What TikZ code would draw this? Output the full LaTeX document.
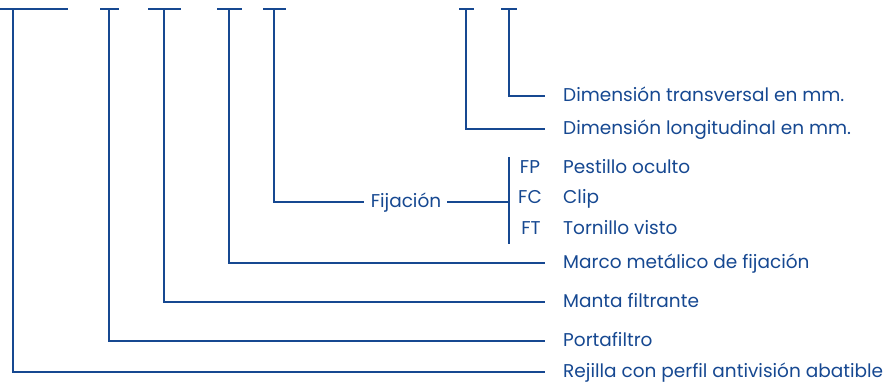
\documentclass[tikz,border=0pt]{standalone}
\usepackage{fontspec}
\setmainfont{Poppins}
\usetikzlibrary{positioning}
\definecolor{azul}{RGB}{22,72,145}

\begin{document}
\begin{tikzpicture}[x=1pt,y=-1pt,
  linea/.style={azul,line width=1.1pt},
  rotulo/.style={azul,anchor=west,inner sep=0pt,text height=11pt,text depth=0pt,font=\fontsize{18.5}{22}\selectfont},
  codigo/.style={azul,inner sep=0pt,text height=11pt,text depth=0pt,font=\fontsize{18.5}{22}\selectfont}]
\useasboundingbox (0,0) rectangle (896,383);
% barras superiores
\foreach \a/\b/\c/\n in {0/68/13/r, 100/119/109/p, 148/181/164/m, 217/242/229/k, 263/286/274/f, 459/474/466/l, 501/517/509/t}{
  \draw[linea] (\a,9) -- (\b,9);
  \coordinate (\n) at (\c,9);
}
% rotulos
\node[rotulo] (dtrans) at (563,96) {Dimensión transversal en mm.};
\node[rotulo] (dlong) at (563,129) {Dimensión longitudinal en mm.};
\node[codigo] (fp) at (530,168) {FP};
\node[codigo] (fc) at (530,198) {FC};
\node[codigo] (ft) at (531,229) {FT};
\node[rotulo] (pest) at (563,168) {Pestillo oculto};
\node[rotulo] (clip) at (563,198) {Clip};
\node[rotulo] (torn) at (563,229) {Tornillo visto};
\node[codigo] (fij) at (406,202) {Fijación};
\node[rotulo] (marco) at (563,263) {Marco metálico de fijación};
\node[rotulo] (manta) at (563,302) {Manta filtrante};
\node[rotulo] (porta) at (563,341) {Portafiltro};
\node[rotulo] (rej) at (563,372) {Rejilla con perfil antivisión abatible};
% llave de fijacion
\coordinate (llaveA) at (509,157);
\coordinate (llaveB) at (509,244);
\draw[linea] (llaveA) -- (llaveB);
% conectores
\draw[linea] (t) |- ([xshift=-18pt]dtrans.west);
\draw[linea] (l) |- ([xshift=-18pt]dlong.west);
\draw[linea] (f) |- ([xshift=-7pt]fij.west);
\draw[linea] ([xshift=6pt]fij.east) -- (fij.east -| llaveA);
\draw[linea] (k) |- ([xshift=-18pt]marco.west);
\draw[linea] (m) |- ([xshift=-18pt]manta.west);
\draw[linea] (p) |- ([xshift=-18pt]porta.west);
\draw[linea] (r) |- ([xshift=-18pt]rej.west);
\end{tikzpicture}
\end{document}
